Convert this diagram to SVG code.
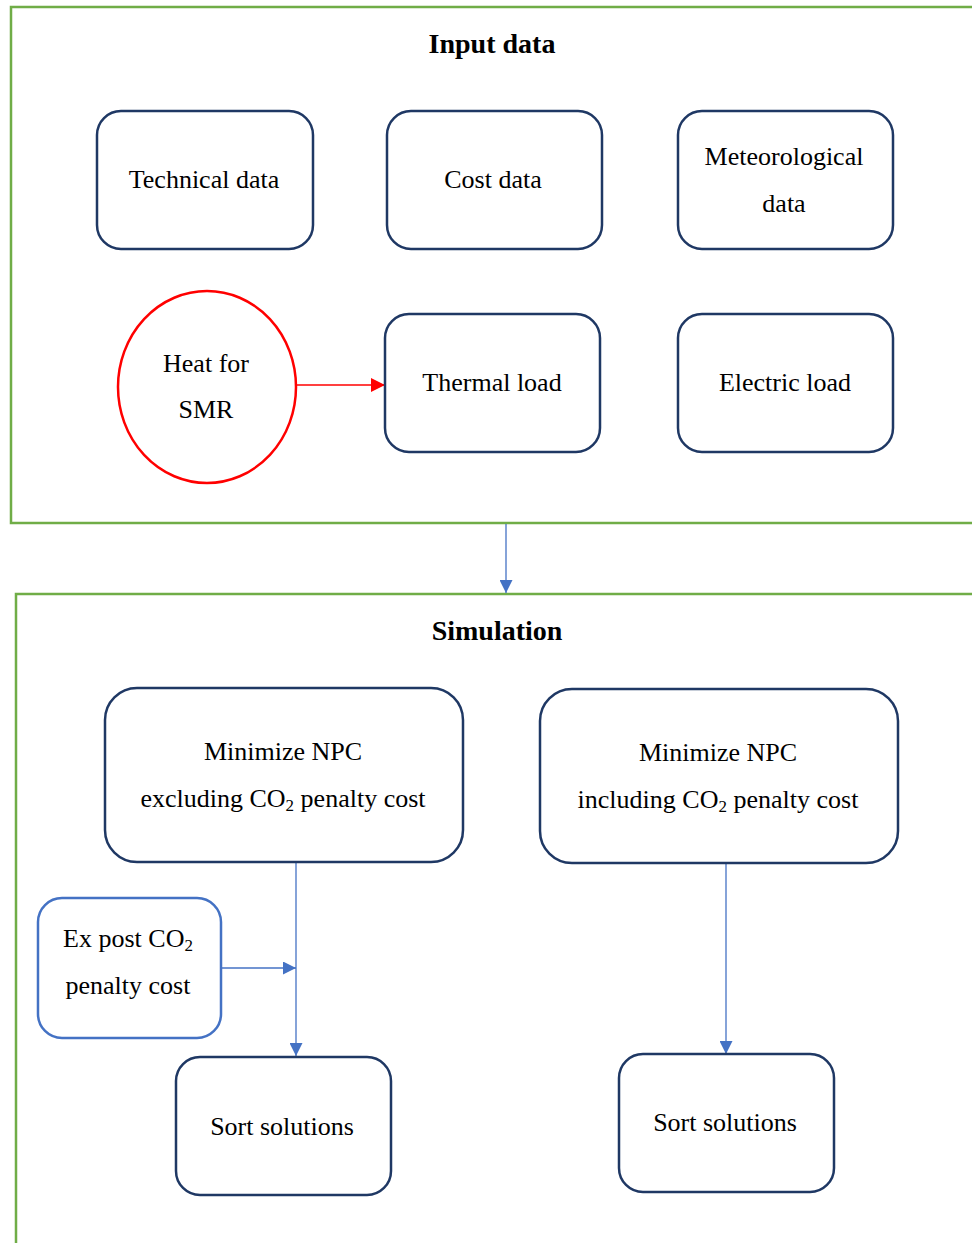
<svg xmlns="http://www.w3.org/2000/svg" width="972" height="1243" viewBox="0 0 972 1243">
  <style>
    .frame { fill: none; stroke: #70AD47; stroke-width: 2.5; }
    .box { fill: #FFFFFF; stroke: #1F3864; stroke-width: 2.5; }
    .bluebox { fill: #FFFFFF; stroke: #4472C4; stroke-width: 2.5; }
    .circ { fill: #FFFFFF; stroke: #FF0000; stroke-width: 2.5; }
    .t { font-family: "Liberation Serif", "Times New Roman", serif; font-size: 26px; fill: #000000; text-anchor: middle; }
    .title { font-family: "Liberation Serif", "Times New Roman", serif; font-size: 28px; font-weight: bold; fill: #000000; text-anchor: middle; }
    .sub { font-size: 17px; }
    .blue { stroke: #4472C4; stroke-width: 1.3; fill: none; }
    .red { stroke: #FF0000; stroke-width: 1.5; fill: none; }
  </style>
  <defs>
    <marker id="ahBlueL" viewBox="0 0 10 10" refX="10" refY="5" markerWidth="14" markerHeight="13" markerUnits="userSpaceOnUse" orient="auto">
      <path d="M0,0 L10,5 L0,10 Z" fill="#4472C4"/>
    </marker>
    <marker id="ahRed" viewBox="0 0 10 10" refX="10" refY="5" markerWidth="14" markerHeight="14" markerUnits="userSpaceOnUse" orient="auto">
      <path d="M0,0 L10,5 L0,10 Z" fill="#FF0000"/>
    </marker>
  </defs>

  <rect width="972" height="1243" fill="#FFFFFF"/>

  <!-- Section frames -->
  <g id="frame-input">
    <rect class="frame" x="11" y="7" width="975" height="516"/>
    <text class="title" x="492" y="53">Input data</text>
  </g>
  <g id="frame-simulation">
    <rect class="frame" x="16" y="594" width="975" height="670"/>
    <text class="title" x="497" y="640">Simulation</text>
  </g>

  <!-- Connectors -->
  <g id="connectors">
    <line class="red" x1="297" y1="385" x2="385" y2="385" marker-end="url(#ahRed)"/>
    <line class="blue" x1="506" y1="524" x2="506" y2="593" marker-end="url(#ahBlueL)"/>
    <line class="blue" x1="296" y1="863" x2="296" y2="1056" marker-end="url(#ahBlueL)"/>
    <line class="blue" x1="222" y1="968" x2="296" y2="968" marker-end="url(#ahBlueL)"/>
    <line class="blue" x1="726" y1="864" x2="726" y2="1054" marker-end="url(#ahBlueL)"/>
  </g>

  <!-- Input nodes -->
  <g id="technical-data">
    <rect class="box" x="97" y="111" width="216" height="138" rx="24"/>
    <text class="t" x="204" y="188">Technical data</text>
  </g>
  <g id="cost-data">
    <rect class="box" x="387" y="111" width="215" height="138" rx="24"/>
    <text class="t" x="493" y="188">Cost data</text>
  </g>
  <g id="meteorological-data">
    <rect class="box" x="678" y="111" width="215" height="138" rx="24"/>
    <text class="t" x="784" y="165">Meteorological</text>
    <text class="t" x="784" y="212">data</text>
  </g>
  <g id="heat-for-smr">
    <ellipse class="circ" cx="207" cy="387" rx="89" ry="96"/>
    <text class="t" x="206" y="372">Heat for</text>
    <text class="t" x="206" y="418">SMR</text>
  </g>
  <g id="thermal-load">
    <rect class="box" x="385" y="314" width="215" height="138" rx="24"/>
    <text class="t" x="492" y="391">Thermal load</text>
  </g>
  <g id="electric-load">
    <rect class="box" x="678" y="314" width="215" height="138" rx="24"/>
    <text class="t" x="785" y="391">Electric load</text>
  </g>

  <!-- Simulation nodes -->
  <g id="minimize-excluding">
    <rect class="box" x="105" y="688" width="358" height="174" rx="32"/>
    <text class="t" x="283" y="760">Minimize NPC</text>
    <text class="t" x="283" y="807">excluding CO<tspan class="sub" dy="4">2</tspan><tspan dy="-4"> penalty cost</tspan></text>
  </g>
  <g id="minimize-including">
    <rect class="box" x="540" y="689" width="358" height="174" rx="32"/>
    <text class="t" x="718" y="761">Minimize NPC</text>
    <text class="t" x="718" y="808">including CO<tspan class="sub" dy="4">2</tspan><tspan dy="-4"> penalty cost</tspan></text>
  </g>
  <g id="ex-post-penalty">
    <rect class="bluebox" x="38" y="898" width="183" height="140" rx="24"/>
    <text class="t" x="128" y="947">Ex post CO<tspan class="sub" dy="4">2</tspan></text>
    <text class="t" x="128" y="994">penalty cost</text>
  </g>
  <g id="sort-left">
    <rect class="box" x="176" y="1057" width="215" height="138" rx="24"/>
    <text class="t" x="282" y="1135">Sort solutions</text>
  </g>
  <g id="sort-right">
    <rect class="box" x="619" y="1054" width="215" height="138" rx="24"/>
    <text class="t" x="725" y="1131">Sort solutions</text>
  </g>
</svg>
